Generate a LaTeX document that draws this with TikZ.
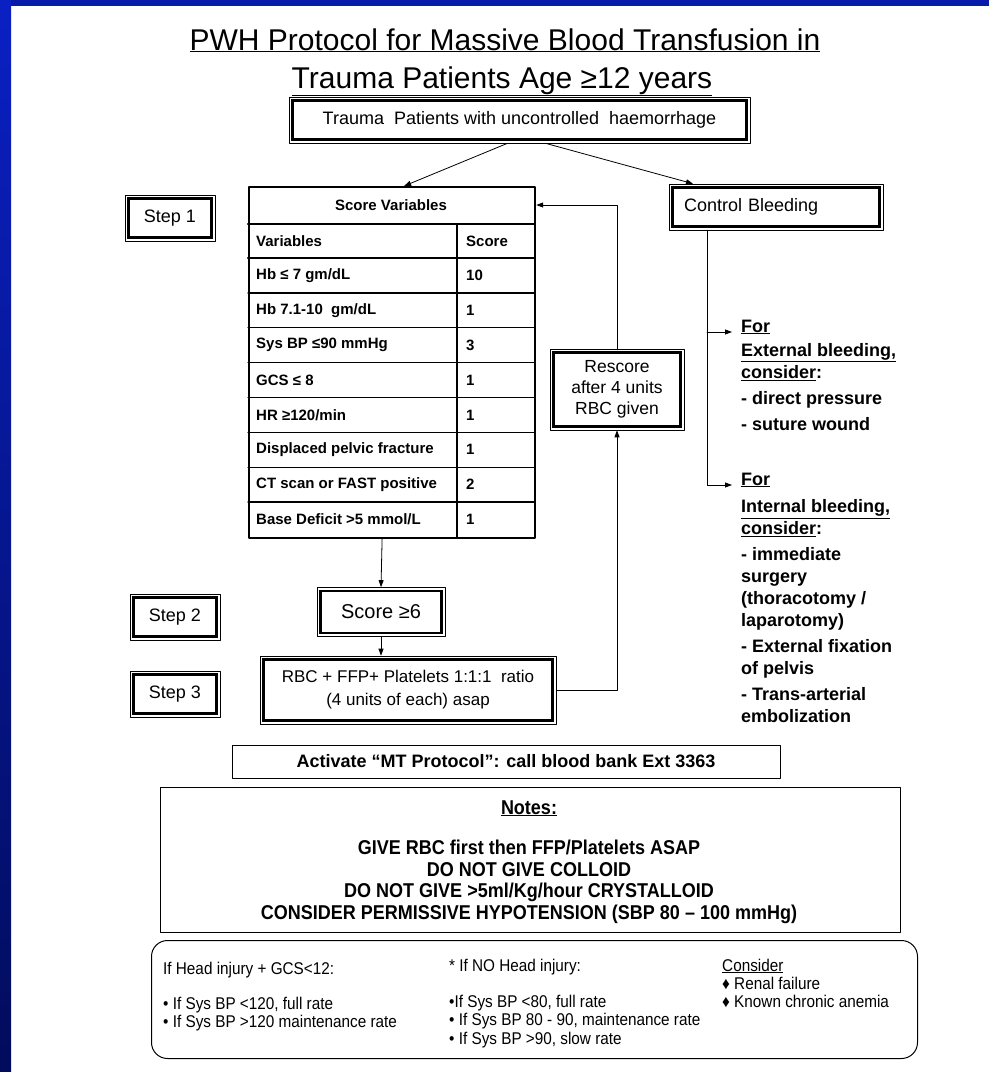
\documentclass[tikz,border=0pt]{standalone}
\usepackage{fontspec}
\setmainfont{Liberation Sans}
\newfontfamily\narrowfont[FakeStretch=0.9]{Liberation Sans}
\usetikzlibrary{arrows.meta,calc}
\definecolor{frameblue}{RGB}{8,26,170}
\definecolor{frametop}{RGB}{10,32,195}
\definecolor{framebottom}{RGB}{2,12,92}

\begin{document}
\begin{tikzpicture}[x=1pt,y=-1pt,line cap=round,line join=round,>={Triangle[length=7pt,width=5pt]},
    dblbox/.style={draw,line width=0.6pt,align=center,inner sep=0pt,
      path picture={\draw[line width=2.4pt,line join=miter]
        ([shift={(3.5pt,3.5pt)}]path picture bounding box.south west) rectangle
        ([shift={(-3.5pt,-3.5pt)}]path picture bounding box.north east);}},
    thinbox/.style={draw,line width=0.8pt,inner sep=0pt},
    link/.style={->,line width=0.8pt},
    cell/.style={anchor=west,inner sep=0pt,font=\bfseries\fontsize{15}{18}\selectfont},
    stepbox/.style={dblbox,minimum width=90pt,minimum height=46pt,font=\fontsize{18}{21}\selectfont},
    rtext/.style={align=left,inner sep=0pt,font=\bfseries\fontsize{18}{22}\selectfont},
    notetext/.style={inner sep=0pt,align=center,font=\narrowfont\bfseries\fontsize{20}{21.5}\selectfont},
    small/.style={align=left,inner sep=0pt,font=\narrowfont\fontsize{17}{18.5}\selectfont}]
    \useasboundingbox (0,0) rectangle (989,1072);
    \fill[white] (0,0) rectangle (989,1072);
    % slide frame
    \fill[frameblue] (0,0) rectangle (989,6);
    \shade[top color=frametop,bottom color=framebottom] (0,0) rectangle (11,1072);

    % title
    \node[anchor=base,inner sep=0pt,font=\fontsize{30}{36}\selectfont] (ttl1) at (505,50) {\underline{PWH Protocol for Massive Blood Transfusion in}};
    \node[anchor=base,inner sep=0pt,font=\fontsize{30}{36}\selectfont] (ttl2) at (502,88) {\underline{Trauma Patients Age ≥12 years}};

    % boxes
    \node[dblbox,minimum width=461pt,minimum height=46pt,font=\fontsize{18}{21}\selectfont] (top) at (519.5,120) {Trauma\ \ Patients with uncontrolled\ \ haemorrhage};
    \node[stepbox] (s1) at (170,218) {Step 1};
    \node[stepbox] (s2) at (175,617) {Step 2};
    \node[stepbox] (s3) at (175,694) {Step 3};
    \node[dblbox,minimum width=214pt,minimum height=46pt,text width=184pt,align=left,font=\fontsize{18}{21}\selectfont] (cb) at (776,207) {Control Bleeding};
    \node[dblbox,minimum width=128pt,minimum height=49pt,font=\fontsize{20}{24}\selectfont] (sc) at (381,612) {Score ≥6};
    \node[dblbox,minimum width=296pt,minimum height=68pt,font=\fontsize{17}{23}\selectfont] (rbc) at (408,690) {RBC + FFP+ Platelets 1:1:1\ \ ratio\\(4 units of each) asap};
    \node[dblbox,minimum width=134pt,minimum height=81pt,font=\fontsize{17.5}{21}\selectfont] (rs) at (617,389.5) {Rescore\\after 4 units\\RBC given};

    % score table
    \node[draw,line width=2.2pt,minimum width=286pt,minimum height=351pt,inner sep=0pt,anchor=north west] (tbl) at (248,186) {};
    \draw[line width=2.2pt] (248,224) -- (534,224);
    \draw[line width=2.2pt] (248,258) -- (534,258);
    \draw[line width=1.5pt] (457,224) -- (457,537);
    \foreach \k in {1,...,7}
        \draw[line width=1.3pt] (248,{258+34.875*\k}) -- (534,{258+34.875*\k});
    \node[cell,anchor=center] (sv) at (391,205) {Score Variables};
    \node[cell] (hv) at (256,241) {Variables};
    \node[cell] (hs) at (466,241) {Score};
    \foreach \v/\s [count=\k] in {{Hb ≤ 7 gm/dL}/10,{Hb 7.1-10\ \ gm/dL}/1,{Sys BP ≤90 mmHg}/3,{GCS ≤ 8}/1,
            {HR ≥120/min}/1,{Displaced pelvic fracture}/1,{CT scan or FAST positive}/2,{Base Deficit >5 mmol/L}/1}
    {
        \node[cell] (var\k) at (256,{258+34.875*(\k-0.5)}) {\v};
        \node[cell] (pts\k) at (466,{258+34.875*(\k-0.5)}) {\s};
    }

    % bleeding control text
    \node[rtext,anchor=base west,inner xsep=9pt] (for1) at (732,332) {\underline{For}};
    \node[rtext,anchor=north west] (ext) at (741,343) {\underline{External bleeding,}\\\underline{consider}:\\[4pt]- direct pressure\\[4pt]- suture wound};
    \node[rtext,anchor=base west,inner xsep=9pt] (for2) at (732,485) {\underline{For}};
    \node[rtext,anchor=north west] (int) at (741,499.5) {\underline{Internal bleeding,}\\\underline{consider}:\\[4pt]- immediate\\surgery\\(thoracotomy /\\laparotomy)\\[4pt]- External fixation\\of pelvis\\[4pt]- Trans-arterial\\embolization};

    % connectors
    \draw[link] ([xshift=-12pt]top.south) -- ([xshift=12pt]tbl.north);
    \draw[link] ([xshift=26pt]top.south) -- ([xshift=-83pt]cb.north);
    \draw[link] ([xshift=-10pt]tbl.south) -- (sc.north);
    \draw[link] (sc.south) -- (sc.south |- rbc.north);
    \draw[link] (rbc.east) -| (rs.south);
    \draw[link] (rs.north) |- (tbl.east |- sv);
    \draw[link] ([xshift=-69pt]cb.south) |- (for2.base west);
    \draw[link] ([xshift=-69pt]cb.south |- for1.base west) -- (for1.base west);

    % MT protocol and notes
    \node[thinbox,minimum width=548pt,minimum height=33pt,font=\bfseries\fontsize{18}{21}\selectfont] (mt) at (506,761.5) {Activate “MT Protocol”: call blood bank Ext 3363};
    \node[thinbox,minimum width=740pt,minimum height=145pt,anchor=north west] (notes) at (160,787) {};
    \node[notetext,anchor=base] (nhead) at (529,814) {\underline{Notes:}};
    \node[notetext,anchor=north] (nbody) at (529,840) {GIVE RBC first then FFP/Platelets ASAP\\DO NOT GIVE COLLOID\\DO NOT GIVE >5ml/Kg/hour CRYSTALLOID\\CONSIDER PERMISSIVE HYPOTENSION (SBP 80 – 100 mmHg)};

    % fluid rate box
    \node[draw,line width=1pt,rounded corners=16pt,minimum width=766pt,minimum height=118pt,anchor=north west] (rate) at (151,940) {};
    \node[small,anchor=base west] (hi) at (163,974) {If Head injury + GCS<12:};
    \node[small,anchor=north west] (hilist) at (163,996.6) {• If Sys BP <120, full rate\\• If Sys BP >120 maintenance rate};
    \node[small,anchor=base west] (ni) at (449,971) {* If NO Head injury:};
    \node[small,anchor=north west] (nilist) at (449,994.6) {•If Sys BP <80, full rate\\• If Sys BP 80 - 90, maintenance rate\\• If Sys BP >90, slow rate};
    \node[small,anchor=base west] (cons) at (722,971) {\underline{Consider}};
    \node[small,anchor=north west] (conslist) at (722,976.6) {♦ Renal failure\\♦ Known chronic anemia};
\end{tikzpicture}
\end{document}
